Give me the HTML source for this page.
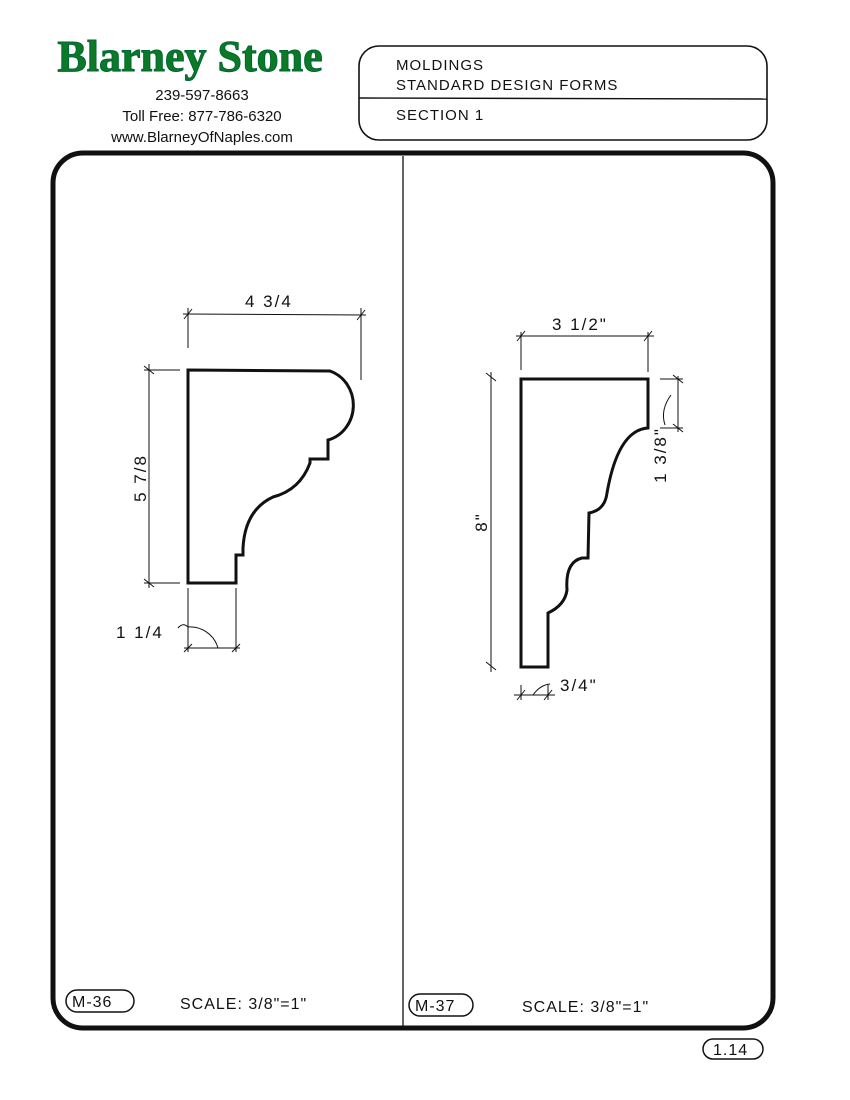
<!DOCTYPE html>
<html><head><style>
html,body{margin:0;padding:0;background:#fff;}
svg{display:block;}
text{font-family:"Liberation Sans",sans-serif;}
</style></head><body>
<svg width="850" height="1100" viewBox="0 0 850 1100" xmlns="http://www.w3.org/2000/svg">
<!-- logo -->
<text x="190" y="71" text-anchor="middle" font-family="Liberation Serif" font-size="44" font-weight="bold" fill="#0b7a25" stroke="#063" stroke-width="1" style="font-family:'Liberation Serif',serif">Blarney Stone</text>
<text x="202" y="100" text-anchor="middle" font-size="15" fill="#111">239-597-8663</text>
<text x="202" y="121" text-anchor="middle" font-size="15" fill="#111">Toll Free: 877-786-6320</text>
<text x="202" y="142" text-anchor="middle" font-size="15" fill="#111">www.BlarneyOfNaples.com</text>
<!-- title block -->
<rect x="359" y="46" width="408" height="94" rx="20" fill="none" stroke="#111" stroke-width="1.6"/>
<line x1="359" y1="98" x2="767" y2="99" stroke="#111" stroke-width="1.4"/>
<g font-size="15" fill="#111" letter-spacing="1">
<text x="396" y="70">MOLDINGS</text>
<text x="396" y="90">STANDARD DESIGN FORMS</text>
<text x="396" y="120">SECTION 1</text>
</g>
<!-- frame -->
<rect x="53" y="153" width="720" height="875" rx="30" fill="none" stroke="#111" stroke-width="5"/>
<line x1="403" y1="156" x2="403" y2="1026" stroke="#111" stroke-width="1.3"/>
<!-- left profile -->
<path d="M188,370 L330,371 A34,36 0 0 1 328,440 L328,459 L310,459 L310,463 Q300,490 273,497 Q245,510 243,548 L243,555 L236,555 L236,583 L188,583 Z" fill="none" stroke="#111" stroke-width="3"/>
<g stroke="#111" stroke-width="1" fill="none">
<line x1="183" y1="314" x2="366" y2="315"/><line x1="188" y1="308" x2="188" y2="348"/><line x1="361" y1="308" x2="361" y2="380"/>
<line x1="184" y1="319" x2="192" y2="309"/><line x1="357" y1="320" x2="365" y2="310"/>
<line x1="149" y1="364" x2="149" y2="588"/><line x1="144" y1="370" x2="180" y2="370"/><line x1="144" y1="583" x2="180" y2="583"/>
<line x1="144" y1="366" x2="154" y2="374"/><line x1="144" y1="579" x2="154" y2="587"/>
<line x1="188" y1="588" x2="188" y2="652"/><line x1="236" y1="588" x2="236" y2="652"/><line x1="184" y1="648" x2="240" y2="648"/>
<line x1="184" y1="652" x2="192" y2="644"/><line x1="232" y1="652" x2="240" y2="644"/>
<path d="M188,627 A29,29 0 0 1 218,648"/><path d="M178,628 Q183,622 188,627"/>
<line x1="491" y1="372" x2="491" y2="672"/><line x1="486" y1="373" x2="496" y2="381"/><line x1="486" y1="662" x2="496" y2="670"/>
<line x1="516" y1="336" x2="654" y2="336"/><line x1="521" y1="332" x2="521" y2="370"/><line x1="648" y1="332" x2="648" y2="372"/>
<line x1="517" y1="341" x2="525" y2="331"/><line x1="644" y1="341" x2="652" y2="331"/>
<line x1="678" y1="376" x2="678" y2="432"/><line x1="660" y1="379" x2="683" y2="379"/><line x1="660" y1="428" x2="683" y2="428"/>
<line x1="673" y1="375" x2="683" y2="383"/><line x1="673" y1="424" x2="683" y2="432"/>
<path d="M671,395 Q660,410 665,425"/>
<line x1="514" y1="695" x2="555" y2="695"/><line x1="521" y1="685" x2="521" y2="700"/><line x1="548" y1="685" x2="548" y2="700"/>
<line x1="517" y1="700" x2="525" y2="690"/><line x1="544" y1="700" x2="552" y2="690"/>
<path d="M533,695 Q540,685 550,684"/>
</g>
<path d="M521,379 L648,379 L648,428 Q618,430 607,493 Q605,510 589,513 L588,558 L582,558 Q565,562 567,590 Q565,605 548,613 L548,667 L521,667 Z" fill="none" stroke="#111" stroke-width="3"/>
<g font-size="17" fill="#111" letter-spacing="2">
<text x="245" y="307">4 3/4</text>
<text x="116" y="638">1 1/4</text>
<text transform="translate(146,478) rotate(-90)" text-anchor="middle">5 7/8</text>
<text x="552" y="330">3 1/2"</text>
<text transform="translate(487,522) rotate(-90)" text-anchor="middle">8"</text>
<text transform="translate(666,455) rotate(-90)" text-anchor="middle">1 3/8"</text>
<text x="560" y="691">3/4"</text>
</g>
<!-- bottom labels -->
<g font-size="16" fill="#111" letter-spacing="1">
<rect x="66" y="990" width="68" height="22" rx="11" fill="none" stroke="#111" stroke-width="1.5"/>
<text x="72" y="1007">M-36</text>
<text x="180" y="1009">SCALE: 3/8"=1"</text>
<rect x="409" y="994" width="64" height="22" rx="11" fill="none" stroke="#111" stroke-width="1.5"/>
<text x="415" y="1011">M-37</text>
<text x="522" y="1012">SCALE: 3/8"=1"</text>
<rect x="703" y="1039" width="60" height="20" rx="10" fill="none" stroke="#111" stroke-width="1.5"/>
<text x="713" y="1055">1.14</text>
</g>
</svg>
</body></html>
